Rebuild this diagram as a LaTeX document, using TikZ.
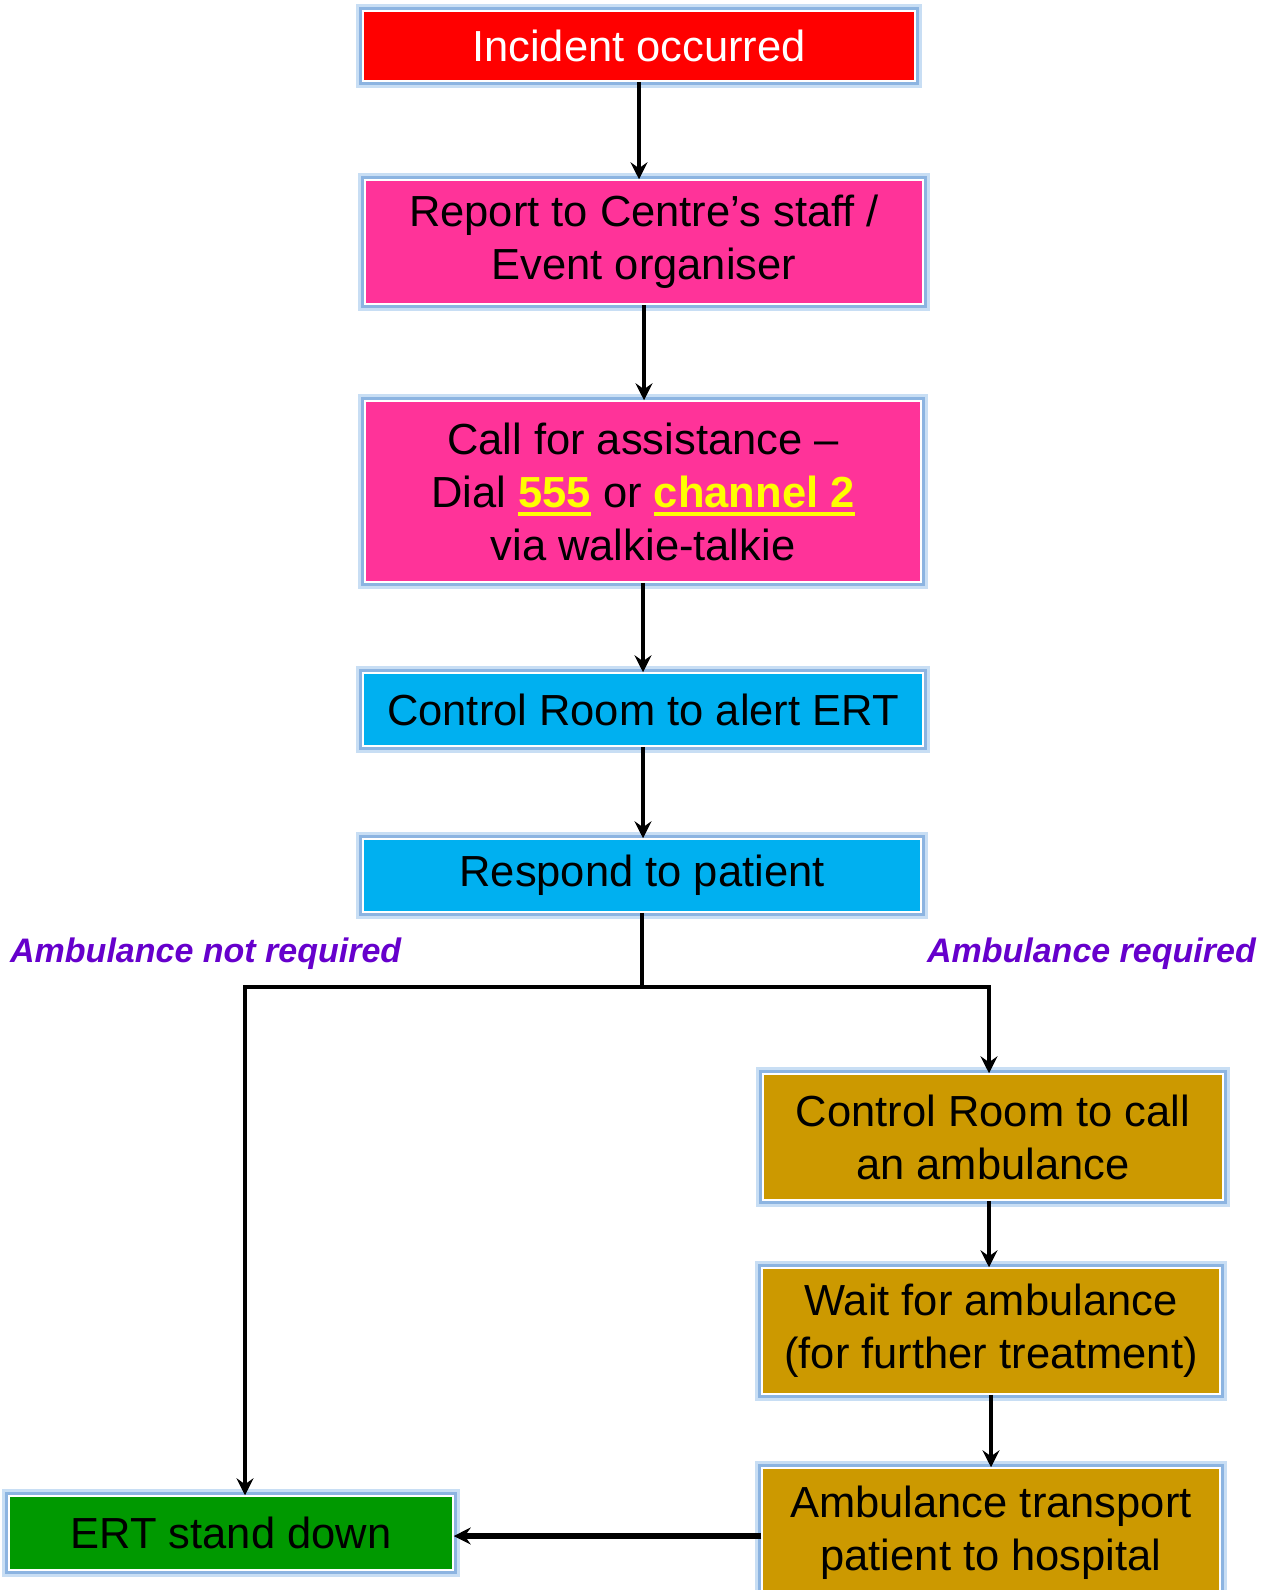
\documentclass[tikz,border=0pt]{standalone}
\usepackage{fontspec}
\setmainfont{Liberation Sans}
\usetikzlibrary{arrows.meta}
\definecolor{cred}{HTML}{FF0000}
\definecolor{cpink}{HTML}{FF3399}
\definecolor{ccyan}{HTML}{00B0F0}
\definecolor{cgold}{HTML}{CC9900}
\definecolor{cgreen}{HTML}{009900}
\definecolor{cyel}{HTML}{FFFF00}
\definecolor{cpurple}{HTML}{6600CC}
\definecolor{glowin}{RGB}{140,180,225}
\definecolor{glowout}{RGB}{200,222,244}
\newcommand\ylw[1]{\setbox0=\hbox{\bfseries #1}\rlap{\raisebox{-9pt}{\rule{\wd0}{4pt}}}\box0}
\begin{document}
\begin{tikzpicture}[x=1pt,y=-1pt,
  box/.style={rectangle, draw=white, line width=1.5pt, inner sep=0pt, align=center,
    font=\fontsize{43.5}{53}\selectfont,
    preaction={draw=glowout, line width=14pt},
    preaction={draw=glowin, line width=8pt}},
  lbl/.style={text=cpurple, font=\fontsize{34}{40}\selectfont\bfseries\itshape, inner sep=0pt},
  arr/.style={draw=black, line width=4.5pt, -{Stealth[length=17pt,width=17pt,inset=6pt]}},
  plain/.style={draw=black, line width=4.5pt}]
\useasboundingbox (0,0) rectangle (1266,1590);
\clip (0,0) rectangle (1266,1590);

\node[box, fill=cred, text=white, minimum width=552, minimum height=70] (inc) at (639,46) {Incident occurred};
\node[box, fill=cpink, minimum width=558, minimum height=124] (rep) at (644,242) {Report to Centre’s staff /\\Event organiser};
\node[box, fill=cpink, minimum width=556, minimum height=181] (call) at (643,491.5) {Call for assistance –\\Dial {\color{cyel}\ylw{555}} or {\color{cyel}\ylw{channel 2}}\\via walkie-talkie};
\node[box, fill=ccyan, minimum width=560, minimum height=73] (alert) at (643,709.5) {Control Room to alert ERT};
\node[box, fill=ccyan, minimum width=558, minimum height=73] (resp) at (642,875.5) {Respond to patient};
\node[box, fill=cgold, minimum width=460, minimum height=126] (amb) at (993,1137) {Control Room to call\\an ambulance};
\node[box, fill=cgold, minimum width=458, minimum height=126] (wait) at (991,1331) {Wait for ambulance\\(for further treatment)};
\node[box, fill=cgold, minimum width=458, minimum height=130] (trans) at (991,1533) {Ambulance transport\\patient to hospital};
\node[box, fill=cgreen, minimum width=444, minimum height=74] (ert) at (231,1533) {ERT stand down};

\node[lbl, anchor=west] (lnot) at (10,954) {Ambulance not required};
\node[lbl, anchor=east] (lreq) at (1256,954) {Ambulance required};

\draw[arr] (inc.south) -- (inc.south |- rep.north);
\draw[arr] (rep.south) -- (rep.south |- call.north);
\draw[arr] (call.south) -- (call.south |- alert.north);
\draw[arr] (alert.south) -- (alert.south |- resp.north);
\coordinate (br) at (642,987);
\draw[plain] (resp.south) -- (br);
\draw[arr] (br) -| ([xshift=14pt]ert.north);
\draw[arr] (br) -| ([xshift=-4pt]amb.north);
\draw[arr] ([xshift=-4pt]amb.south) -- ([xshift=-4pt]amb.south |- wait.north);
\draw[arr] (wait.south) -- (wait.south |- trans.north);
\draw[arr, line width=6pt] ([yshift=-3pt]trans.west) -- ([yshift=-3pt]trans.west -| ert.east);
\end{tikzpicture}
\end{document}
